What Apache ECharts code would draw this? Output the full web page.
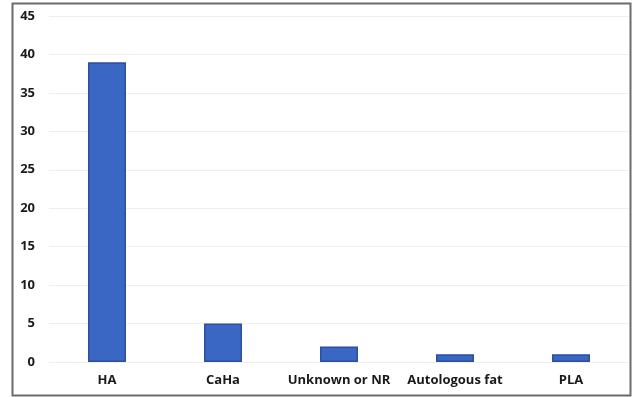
<!DOCTYPE html>
<html><head><meta charset="utf-8">
<script src="https://cdn.jsdelivr.net/npm/echarts@6/dist/echarts.min.js"></script>
<style>html,body{margin:0;padding:0;background:#fff}#c{width:633px;height:397px}</style>
</head><body><div id="c"></div>
<script>
const categories = ['HA', 'CaHa', 'Unknown or NR', 'Autologous fat', 'PLA'];
const values = [39, 5, 2, 1, 1];
const chart = echarts.init(document.getElementById('c'));
chart.setOption({
  animation: false,
  backgroundColor: '#fff',
  grid: { left: 49, right: 4, top: 16, bottom: 35 },
  graphic: [{
    type: 'rect', shape: { x: 12.5, y: 3.5, width: 618, height: 392 },
    style: { fill: 'none', stroke: '#6b6b6b', lineWidth: 2 }, z: -1
  }],
  xAxis: {
    type: 'category', data: categories,
    axisLine: { show: false }, axisTick: { show: false },
    axisLabel: { interval: 0, color: '#1a1a1a', fontWeight: 'bold', fontSize: 13, fontFamily: 'Open Sans', margin: 12 }
  },
  yAxis: {
    type: 'value', min: 0, max: 45, interval: 5,
    axisLine: { show: false }, axisTick: { show: false },
    splitLine: { lineStyle: { color: '#efefef', width: 1 } },
    axisLabel: { color: '#1a1a1a', fontWeight: 'bold', fontSize: 13, fontFamily: 'Open Sans', margin: 14 }
  },
  series: [{
    type: 'bar', data: values, barWidth: 38,
    itemStyle: { color: '#3a66c4', borderColor: '#2d4f9c', borderWidth: 1.5 }
  }]
});
</script></body></html>
